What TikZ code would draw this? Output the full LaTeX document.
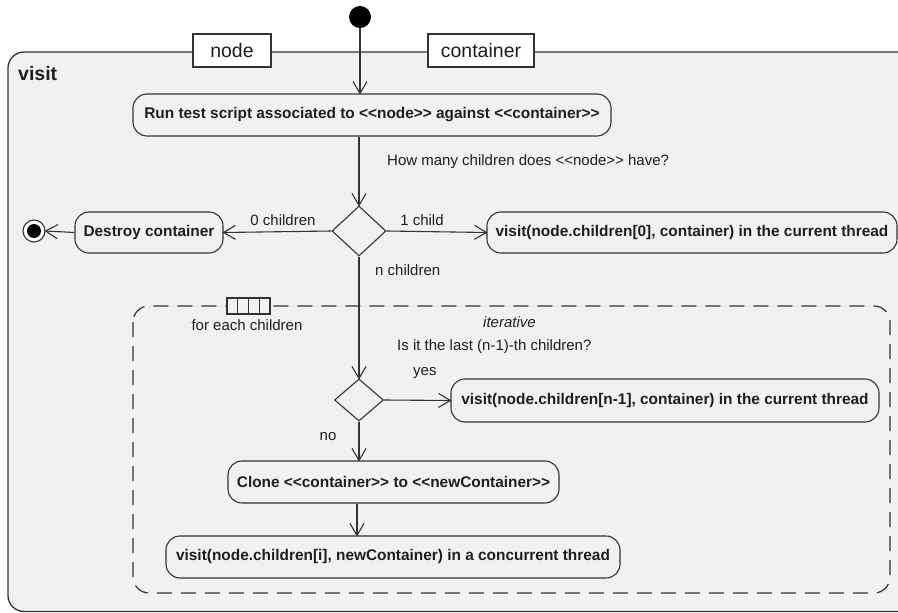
\documentclass[tikz,border=0pt]{standalone}
\usepackage{fontspec}
\setmainfont{Liberation Sans}
\usetikzlibrary{shapes.geometric,arrows.meta,calc}
\definecolor{framefill}{HTML}{F1F1F1}
\definecolor{ink}{HTML}{333333}
\definecolor{txt}{HTML}{1E1E1E}
% open "V" arrow head of UML control flows
\pgfdeclarearrow{
  name=OpenVee,
  setup code={
    \pgfarrowssettipend{0pt}
    \pgfarrowssetlineend{-0.6pt}
    \pgfarrowsupperhullpoint{-12pt}{7pt}
    \pgfarrowsupperhullpoint{0pt}{0pt}
  },
  drawing code={
    \pgfsetdash{}{0pt}
    \pgfsetmiterjoin
    \pgfsetlinewidth{1.1pt}
    \pgfpathmoveto{\pgfpoint{-12pt}{7pt}}
    \pgfpathlineto{\pgfpointorigin}
    \pgfpathlineto{\pgfpoint{-12pt}{-7pt}}
    \pgfusepathqstroke
  },
}
\tikzset{
  every picture/.style={x=1pt,y=-1pt},
  action/.style={draw=ink, line width=1.1pt, rounded corners=14pt, fill=framefill,
    inner sep=0pt, text=txt, font=\fontsize{15.4}{18}\selectfont\bfseries},
  choice/.style={draw=ink, line width=1.1pt, diamond, inner sep=0pt, fill=framefill},
  param/.style={draw=ink, line width=1.1pt, fill=white, inner sep=0pt,
    text=txt, font=\fontsize{19.5}{22}\selectfont},
  lbl/.style={text=txt, font=\fontsize{15}{18}\selectfont, inner sep=0pt},
  flow/.style={draw=ink, line width=1.1pt, -OpenVee},
}
\begin{document}
\begin{tikzpicture}
\useasboundingbox (0,0) rectangle (898,613);
\clip (0,0) rectangle (898,613);

% activity frame "visit"
\draw[ink, line width=1.3pt, fill=framefill, rounded corners=16pt] (8,52) rectangle (930,611.5);
\node[anchor=west, text=txt, font=\fontsize{19.5}{22}\selectfont\bfseries, inner sep=0pt] (title) at (18,74) {visit};

% parameter pins on the frame
\node[param, minimum width=78pt, minimum height=33pt] (pnode) at (232,50.5) {node};
\node[param, minimum width=106pt, minimum height=33pt] (pcont) at (481,50.5) {container};

% initial node
\node[circle, fill=black, minimum size=22pt, inner sep=0pt] (start) at (360,17) {};

% expansion region (iterative)
\draw[ink, line width=1.2pt, dash pattern=on 15pt off 9pt, rounded corners=16pt] (133,306) rectangle (890,593);
\foreach \i in {0,1,2,3}{
  \draw[ink, line width=1.1pt, fill=framefill] ($(227,298)+(\i*10.75,0)$) rectangle ++(10.75,16);
}
\node[lbl] (foreach) at (247,325) {for each children};
\node[lbl, anchor=west, font=\fontsize{15}{18}\selectfont\itshape] (iter) at (483,322) {iterative};

% actions
\node[action, minimum width=478pt, minimum height=42pt] (run) at (372,115)
  {Run test script associated to <{}<node>{}> against <{}<container>{}>};
\node[choice, minimum width=54pt, minimum height=50pt] (d1) at (359,231) {};
\node[action, minimum width=148pt, minimum height=41pt] (destroy) at (149,232.5) {Destroy container};
\node[action, minimum width=410pt, minimum height=41pt] (visitA) at (692,232.5)
  {visit(node.children[0], container) in the current thread};

% final node
\node[circle, draw=ink, line width=1.1pt, fill=white, minimum size=22pt, inner sep=0pt] (final) at (34,231) {};
\node[circle, fill=black, minimum size=14pt, inner sep=0pt] (finaldot) at (final.center) {};

\node[choice, minimum width=49pt, minimum height=42pt] (d2) at (359,400) {};
\node[action, minimum width=428pt, minimum height=43pt] (visitB) at (665,400.5)
  {visit(node.children[n-1], container) in the current thread};
\node[action, minimum width=331pt, minimum height=42pt] (clone) at (393.5,482)
  {Clone <{}<container>{}> to <{}<newContainer>{}>};
\node[action, minimum width=454pt, minimum height=42pt] (visitC) at (393,557)
  {visit(node.children[i], newContainer) in a concurrent thread};

% guards and notes
\node[lbl, anchor=west] (q1) at (387,162) {How many children does <{}<node>{}> have?};
\node[lbl] (g0) at (283,220) {0 children};
\node[lbl] (g1) at (422,220) {1 child};
\node[lbl, anchor=west] (gn) at (375,270) {n children};
\node[lbl, anchor=west] (q2) at (397,347) {Is it the last (n-1)-th children?};
\node[lbl, anchor=west] (gyes) at (413,373) {yes};
\node[lbl] (gno) at (328,437) {no};

% control flows
\draw[flow] (start) -- (start |- run.north);
\draw[flow] (d1.north |- run.south) -- (d1.north);
\draw[flow] (d1.west) -- (destroy.east);
\draw[flow] (d1.east) -- (visitA.west);
\draw[flow] (destroy.west) -- (final.east);
\draw[flow] (d1.south) -- (d2.north);
\draw[flow] (d2.east) -- (visitB.west);
\draw[flow] (d2.south) -- (d2.south |- clone.north);
\draw[flow] ($(clone.south)+(-36.5,0)$) -- ($(visitC.north)+(-36,0)$);
\end{tikzpicture}
\end{document}
